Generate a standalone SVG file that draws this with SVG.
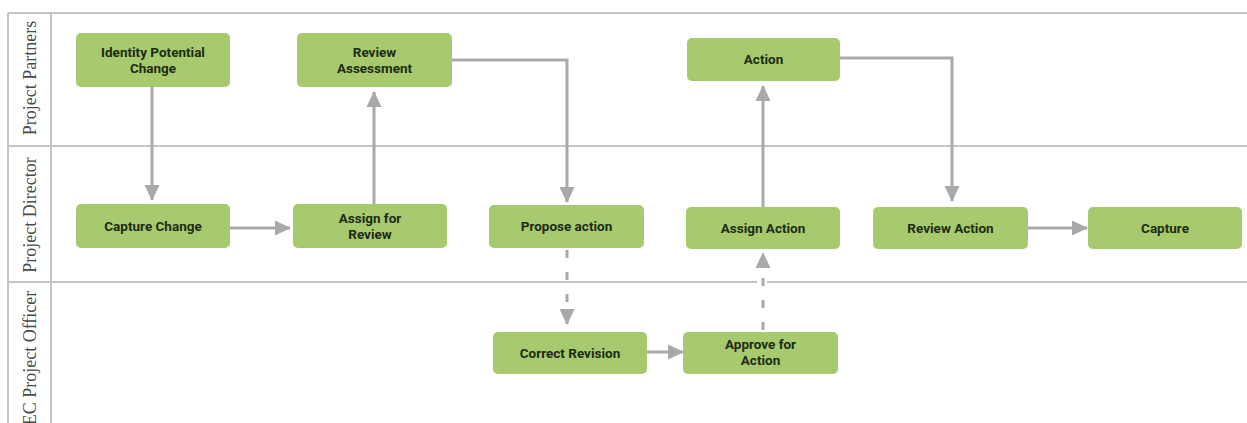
<svg xmlns="http://www.w3.org/2000/svg" width="1247" height="423" viewBox="0 0 1247 423">
<style>
.lane{stroke:#c4c4c4;stroke-width:2;fill:none}
.lbl{font-family:"Liberation Serif","Times New Roman",serif;font-size:18px;fill:#4a4a4a}
.box{fill:#a6ca6d;rx:5;ry:5}
.t{font-family:Roboto,"Liberation Sans",sans-serif;font-size:13.5px;font-weight:bold;fill:#1f2a14;text-anchor:middle}
.c{stroke:#a9a9a9;stroke-width:3;fill:none}
.d{stroke-dasharray:8 14}
</style>
<defs>
<marker id="ah" markerUnits="userSpaceOnUse" markerWidth="16" markerHeight="16" viewBox="0 0 16 16" refX="15" refY="8" orient="auto">
<path d="M0,0.5 L16,8 L0,15.5 z" fill="#a9a9a9"/>
</marker>
</defs>
<rect width="1247" height="423" fill="#fff"/>
<g id="lanes">
<line class="lane" x1="8" y1="13" x2="1247" y2="13"/>
<line class="lane" x1="8" y1="13" x2="8" y2="423"/>
<line class="lane" x1="51" y1="13" x2="51" y2="423"/>
<line class="lane" x1="8" y1="146" x2="1247" y2="146"/>
<line class="lane" x1="8" y1="282" x2="757" y2="282"/>
<line class="lane" x1="767" y1="282" x2="1247" y2="282"/>
<text class="lbl" transform="translate(36,78) rotate(-90)" text-anchor="middle">Project Partners</text>
<text class="lbl" transform="translate(36,215) rotate(-90)" text-anchor="middle">Project Director</text>
<text class="lbl" transform="translate(36,358) rotate(-90)" text-anchor="middle">EC Project Officer</text>
</g>
<g id="connectors">
<path class="c" d="M152,87 V200" marker-end="url(#ah)"/>
<path class="c" d="M374,204 V92" marker-end="url(#ah)"/>
<path class="c" d="M452,60 H567 V202" marker-end="url(#ah)"/>
<path class="c d" d="M567,250 V324" marker-end="url(#ah)"/>
<path class="c" d="M230,228 H290" marker-end="url(#ah)"/>
<path class="c" d="M647,352 H683" marker-end="url(#ah)"/>
<path class="c d" d="M763,330 V253" marker-end="url(#ah)"/>
<path class="c" d="M763,207 V86" marker-end="url(#ah)"/>
<path class="c" d="M840,58 H952 V201" marker-end="url(#ah)"/>
<path class="c" d="M1028,228 H1087" marker-end="url(#ah)"/>
</g>
<g id="n-identify"><rect class="box" x="76" y="33" width="154" height="54"/><text class="t" x="153" y="56.5">Identity Potential</text><text class="t" x="153" y="72.5">Change</text></g>
<g id="n-review-assessment"><rect class="box" x="297" y="33" width="155" height="54"/><text class="t" x="374.5" y="56.5">Review</text><text class="t" x="374.5" y="72.5">Assessment</text></g>
<g id="n-action"><rect class="box" x="687" y="38" width="153" height="43"/><text class="t" x="763.5" y="64">Action</text></g>
<g id="n-capture-change"><rect class="box" x="76" y="204" width="154" height="44"/><text class="t" x="153" y="230.5">Capture Change</text></g>
<g id="n-assign-review"><rect class="box" x="293" y="204" width="154" height="44"/><text class="t" x="370" y="222.5">Assign for</text><text class="t" x="370" y="239">Review</text></g>
<g id="n-propose"><rect class="box" x="489" y="205" width="155" height="43"/><text class="t" x="566.5" y="231">Propose action</text></g>
<g id="n-assign-action"><rect class="box" x="686" y="207" width="154" height="42"/><text class="t" x="763" y="232.5">Assign Action</text></g>
<g id="n-review-action"><rect class="box" x="873" y="207" width="155" height="42"/><text class="t" x="950.5" y="232.5">Review Action</text></g>
<g id="n-capture"><rect class="box" x="1088" y="207" width="154" height="42"/><text class="t" x="1165" y="232.5">Capture</text></g>
<g id="n-correct"><rect class="box" x="493" y="332" width="154" height="42"/><text class="t" x="570" y="357.5">Correct Revision</text></g>
<g id="n-approve"><rect class="box" x="683" y="332" width="155" height="42"/><text class="t" x="760.5" y="348.5">Approve for</text><text class="t" x="760.5" y="365">Action</text></g>
</svg>
